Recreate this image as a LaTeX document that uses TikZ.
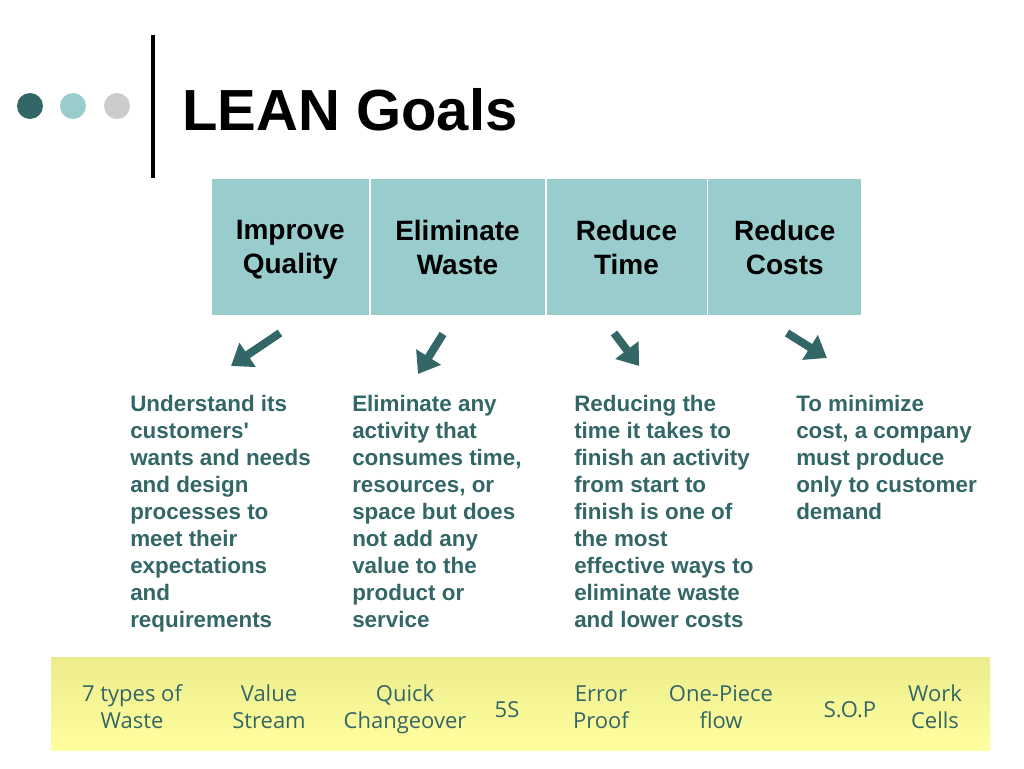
\documentclass[tikz,border=0pt]{standalone}
\usepackage{fontspec}
\setmainfont{Liberation Sans}
\newfontfamily\barfont{Open Sans}
\usetikzlibrary{arrows.meta}
\definecolor{tealdark}{HTML}{336666}
\definecolor{teallight}{HTML}{99CCCC}
\definecolor{dotgray}{HTML}{CCCCCC}
\definecolor{bartop}{HTML}{ECEC8C}
\definecolor{barbottom}{HTML}{FFFFA0}
\tikzset{
  dot/.style={circle, inner sep=0pt, minimum size=19.5pt},
  goal/.style={fill=teallight, minimum height=102pt, inner sep=0pt, align=center, text depth=0pt,
    font=\bfseries\fontsize{21}{25.5}\selectfont},
  says/.style={anchor=north west, inner sep=0pt, align=left, text=tealdark,
    font=\bfseries\fontsize{16.8}{20.25}\selectfont},
  tool/.style={inner sep=0pt, align=center, text=tealdark, text depth=0pt,
    font=\barfont\fontsize{16.5}{20.25}\selectfont},
  goalarrow/.style={draw=tealdark, line width=6pt, -{Triangle[width=21pt,length=15pt]}}
}
\begin{document}
\begin{tikzpicture}[x=0.75pt,y=-0.75pt]
                \useasboundingbox (0,0) rectangle (1024,768);
                % title
                \node[dot, fill=tealdark] (D1) at (30,106) {};
                \node[dot, fill=teallight] (D2) at (73,106) {};
                \node[dot, fill=dotgray] (D3) at (117,106) {};
                \draw[line width=3pt] (153,35) -- (153,178);
                \node[anchor=base west, inner sep=0pt, font=\bfseries\fontsize{43.5}{52}\selectfont] (T) at (182,130) {LEAN Goals};
                % goals
                \node[goal, minimum width=117.4pt] (G1) at (290.25,247) {Improve\\Quality};
                \node[goal, minimum width=130.5pt] (G2) at (457.5,247) {Eliminate\\Waste};
                \node[goal, minimum width=120pt] (G3) at (626.5,247) {Reduce\\Time};
                \node[goal, minimum width=114.4pt] (G4) at (784.75,247) {Reduce\\Costs};
                % what each goal means
                \node[says] (N1) at (130,395) {Understand its\\customers\textquotesingle\\wants and needs\\and design\\processes to\\meet their\\expectations\\and\\requirements};
                \node[says] (N2) at (352,395) {Eliminate any\\activity that\\consumes time,\\resources, or\\space but does\\not add any\\value to the\\product or\\service};
                \node[says] (N3) at (574,395) {Reducing the\\time it takes to\\finish an activity\\from start to\\finish is one of\\the most\\effective ways to\\eliminate waste\\and lower costs};
                \node[says] (N4) at (796,395) {To minimize\\cost, a company\\must produce\\only to customer\\demand};
                \coordinate (G1a) at (280,333);
                \coordinate (N1a) at (231,366);
                \coordinate (G2a) at (443,334);
                \coordinate (N2a) at (418,374);
                \coordinate (G3a) at (614,333);
                \coordinate (N3a) at (639,366);
                \coordinate (G4a) at (787,333);
                \coordinate (N4a) at (827,358);
                \draw[goalarrow] (G1a) -- (N1a);
                \draw[goalarrow] (G2a) -- (N2a);
                \draw[goalarrow] (G3a) -- (N3a);
                \draw[goalarrow] (G4a) -- (N4a);
                % tools
                \shade[top color=bartop, bottom color=barbottom] (51,657) rectangle (990,750);
                \node[tool] (B1) at (132,707) {7 types of\\Waste};
                \node[tool] (B2) at (269,707) {Value\\Stream};
                \node[tool] (B3) at (405,707) {Quick\\Changeover};
                \node[tool] (B4) at (507,710) {5S};
                \node[tool] (B5) at (601,707) {Error\\Proof};
                \node[tool] (B6) at (721,707) {One-Piece\\flow};
                \node[tool] (B7) at (850,710) {S.O.P};
                \node[tool] (B8) at (935,707) {Work\\Cells};
            \end{tikzpicture}
\end{document}
